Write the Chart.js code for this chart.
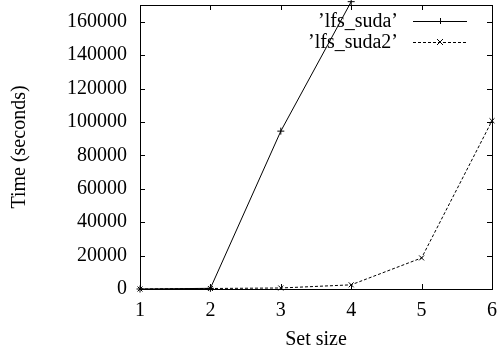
<!DOCTYPE html>
<html>
<head>
<meta charset="utf-8">
<script src="https://cdn.jsdelivr.net/npm/chart.js@4/dist/chart.umd.min.js"></script>
<style>
  html, body { margin: 0; padding: 0; background: #fff; }
  #wrap { width: 500px; height: 355px; }
</style>
</head>
<body>
<div id="wrap"><canvas id="chart" width="500" height="355"></canvas></div>
<script>
const setSizes = ['1', '2', '3', '4', '5', '6'];
const sudaTimes = [0, 400, 94500, 172000];
const suda2Times = [0, 300, 600, 2500, 18600, 100700];
const yTicks = [0, 20000, 40000, 60000, 80000, 100000, 120000, 140000, 160000];
const seriesLabels = ['\u2019lfs_suda\u2019', '\u2019lfs_suda2\u2019'];

const serif = '"Liberation Serif", "Times New Roman", serif';

function noEdgePadding(s) {
  s.paddingTop = 0;
  s.paddingBottom = 0;
  s.paddingLeft = 0;
  s.paddingRight = 0;
}

// gnuplot-like frame: border box plus inward ticks on all four sides
const framePlugin = {
  id: 'frame',
  afterDraw(chart) {
    const { ctx, chartArea: a, scales } = chart;
    const len = 5;
    ctx.save();
    ctx.strokeStyle = '#000';
    ctx.lineWidth = 1;
    ctx.strokeRect(a.left + 0.5, a.top + 0.5, a.right - a.left, a.bottom - a.top);
    ctx.beginPath();
    scales.x.ticks.forEach((t, i) => {
      const px = Math.round(scales.x.getPixelForTick(i)) + 0.5;
      ctx.moveTo(px, a.bottom); ctx.lineTo(px, a.bottom - len);
      ctx.moveTo(px, a.top); ctx.lineTo(px, a.top + len);
    });
    scales.y.ticks.forEach((t) => {
      const py = Math.round(scales.y.getPixelForValue(t.value)) + 0.5;
      ctx.moveTo(a.left, py); ctx.lineTo(a.left + len, py);
      ctx.moveTo(a.right, py); ctx.lineTo(a.right - len, py);
    });
    ctx.stroke();

    // key in the top right corner
    ctx.font = '20px ' + serif;
    ctx.textAlign = 'right';
    ctx.textBaseline = 'middle';
    ctx.fillStyle = '#000';
    chart.data.datasets.forEach((ds, i) => {
      const y = 21 + i * 21;
      ctx.fillText(ds.label, 398, y + 1);
      ctx.beginPath();
      ctx.setLineDash(ds.borderDash || []);
      ctx.moveTo(413, y + 0.5);
      ctx.lineTo(467, y + 0.5);
      ctx.stroke();
      ctx.setLineDash([]);
      const mx = 440, r = 3;
      ctx.beginPath();
      if (ds.pointStyle === 'cross') {
        ctx.moveTo(mx - r, y + 0.5); ctx.lineTo(mx + r, y + 0.5);
        ctx.moveTo(mx + 0.5, y - r); ctx.lineTo(mx + 0.5, y + r);
      } else {
        ctx.moveTo(mx - r, y - r); ctx.lineTo(mx + r, y + r);
        ctx.moveTo(mx - r, y + r); ctx.lineTo(mx + r, y - r);
      }
      ctx.stroke();
    });
    ctx.restore();
  }
};

new Chart(document.getElementById('chart'), {
  type: 'line',
  data: {
    labels: setSizes,
    datasets: [
      {
        label: seriesLabels[0],
        data: sudaTimes,
        borderColor: '#000',
        borderWidth: 1,
        pointStyle: 'cross',
        pointRadius: 3.5,
        pointBorderColor: '#000',
        pointBorderWidth: 1,
        tension: 0,
        clip: false
      },
      {
        label: seriesLabels[1],
        data: suda2Times,
        borderColor: '#000',
        borderWidth: 1,
        borderDash: [3, 2],
        pointStyle: 'crossRot',
        pointRadius: 3.5,
        pointBorderColor: '#000',
        pointBorderWidth: 1,
        tension: 0,
        clip: false
      }
    ]
  },
  options: {
    responsive: false,
    animation: false,
    layout: { padding: { left: 0, right: 8, top: 5, bottom: 0 } },
    plugins: {
      legend: { display: false },
      tooltip: { enabled: false }
    },
    scales: {
      x: {
        type: 'category',
        offset: false,
        grid: { display: false, drawTicks: false },
        border: { display: false },
        ticks: { color: '#000', font: { family: serif, size: 20 }, padding: 10, maxRotation: 0 },
        title: { display: true, text: 'Set size', color: '#000', font: { family: serif, size: 20 }, padding: { top: 0, bottom: 3 } },
        afterFit(s) { s.height = 66; noEdgePadding(s); }
      },
      y: {
        min: 0,
        max: 170000,
        grid: { display: false, drawTicks: false },
        border: { display: false },
        afterBuildTicks(s) { s.ticks = yTicks.map((v) => ({ value: v })); },
        ticks: { color: '#000', font: { family: serif, size: 20 }, padding: 13, callback: (v) => String(v) },
        title: { display: true, text: 'Time (seconds)', color: '#000', font: { family: serif, size: 20 }, padding: { top: 8, bottom: 0 } },
        afterFit(s) { s.width = 140; noEdgePadding(s); }
      }
    }
  },
  plugins: [framePlugin]
});
</script>
</body>
</html>
